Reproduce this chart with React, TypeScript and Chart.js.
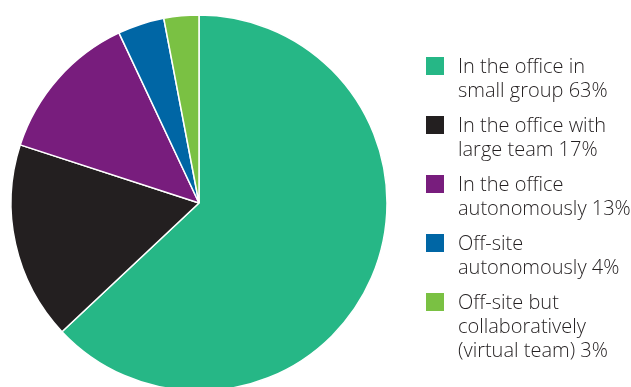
import React, { useEffect, useRef } from "react";
import { Chart, registerables } from "chart.js";

Chart.register(...registerables);

const categories: string[] = [
  "In the office in small group",
  "In the office with large team",
  "In the office autonomously",
  "Off-site autonomously",
  "Off-site but collaboratively (virtual team)",
];
const values: number[] = [63, 17, 13, 4, 3];
const legendLines: string[][] = [
  ["In the office in", "small group 63%"],
  ["In the office with", "large team 17%"],
  ["In the office", "autonomously 13%"],
  ["Off-site", "autonomously 4%"],
  ["Off-site but", "collaboratively", "(virtual team) 3%"],
];
const colors: string[] = ["#26B786", "#231F20", "#781D7D", "#0066A5", "#7AC143"];

const legendPlugin = {
  id: "sideLegend",
  afterDraw(chart: any, _args: any, opts: any) {
    const ctx = chart.ctx;
    ctx.save();
    let baseline = opts.top;
    legendLines.forEach((lines, i) => {
      ctx.fillStyle = colors[i];
      ctx.fillRect(opts.boxX, baseline - 16, 18, 18);
      ctx.fillStyle = "#231F20";
      ctx.font = opts.font;
      ctx.textBaseline = "alphabetic";
      ctx.textAlign = "left";
      lines.forEach((line, j) => {
        ctx.fillText(line, opts.textX, baseline + j * opts.lineHeight);
      });
      baseline += lines.length * opts.lineHeight + opts.gap;
    });
    ctx.restore();
  },
};

export default function App() {
  const ref = useRef<HTMLCanvasElement>(null);
  useEffect(() => {
    if (!ref.current) return;
    const chart = new Chart(ref.current, {
      type: "pie",
      data: {
        labels: categories,
        datasets: [
          {
            data: values,
            backgroundColor: colors,
            borderColor: "#ffffff",
            borderWidth: 1.5,
          },
        ],
      },
      options: {
        animation: false,
        responsive: false,
        radius: 188,
        layout: { padding: { left: 11, top: 15, right: 244, bottom: 19 } },
        plugins: {
          legend: { display: false },
          tooltip: { enabled: false },
          sideLegend: {
            top: 73,
            boxX: 426,
            textX: 458,
            lineHeight: 24,
            gap: 11,
            font: "300 20px 'Open Sans'",
          },
        } as any,
      },
      plugins: [legendPlugin],
    });
    return () => chart.destroy();
  }, []);
  return (
    <div
      style={{
        position: "fixed",
        left: 0,
        top: 0,
        width: 631,
        height: 387,
        overflow: "hidden",
        background: "#ffffff",
      }}
    >
      <canvas ref={ref} width={631} height={410} style={{ display: "block" }} />
    </div>
  );
}
